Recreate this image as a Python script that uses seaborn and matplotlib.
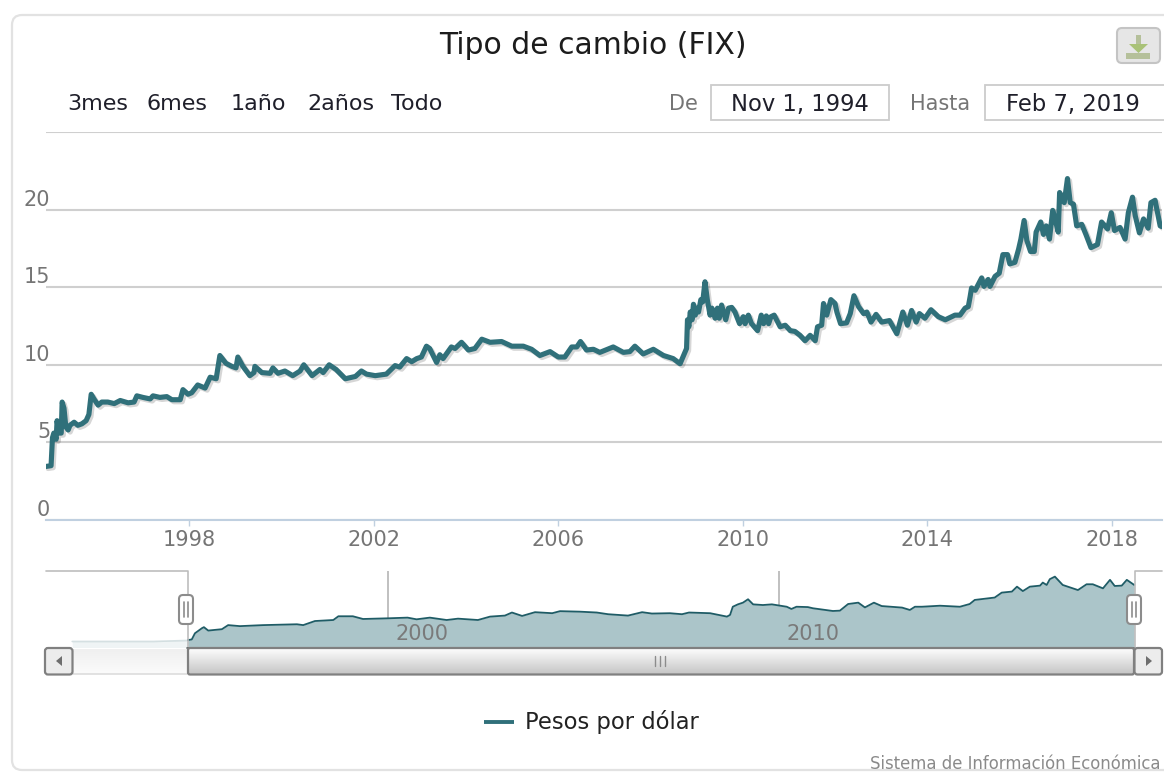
import numpy as np
import pandas as pd
import seaborn as sns
import matplotlib
matplotlib.use('Agg')
import matplotlib.pyplot as plt
import matplotlib.patheffects as pe
from matplotlib.patches import FancyBboxPatch, Rectangle, Polygon

## Tipo de cambio FIX
anios = [1994.89,1995.00,1995.03,1995.06,1995.11,1995.13,1995.17,1995.22,1995.24,1995.28,1995.32,1995.37,1995.41,1995.50,1995.58,1995.67,1995.76,1995.82,1995.87,1995.93,
         1996.02,1996.10,1996.23,1996.37,1996.50,1996.67,1996.80,1996.86,1996.99,1997.15,1997.21,1997.36,1997.51,1997.62,1997.80,1997.86,1997.97,1998.05,1998.18,1998.34,
         1998.45,1998.58,1998.66,1998.79,1998.92,1999.01,1999.05,1999.16,1999.31,1999.40,1999.42,1999.57,1999.75,1999.81,1999.92,2000.07,2000.24,2000.40,2000.48,2000.66,
         2000.83,2000.90,2001.03,2001.18,2001.38,2001.60,2001.73,2001.84,2002.03,2002.27,
         2002.46,2002.56,2002.71,2002.82,2002.93,2003.03,2003.14,2003.21,2003.36,2003.43,2003.50,2003.68,2003.76,2003.90,2004.05,2004.19,2004.34,2004.52,2004.77,2004.99,
         2005.24,2005.42,2005.60,2005.82,2006.00,2006.14,2006.29,2006.40,2006.48,2006.61,2006.76,2006.90,2007.19,2007.41,2007.55,2007.66,2007.84,2008.06,2008.28,2008.49,
         2008.64,2008.73,2008.78,2008.80,2008.83,2008.86,2008.90,2008.93,2008.97,2009.00,2009.04,2009.09,2009.13,2009.18,2009.23,2009.29,2009.33,2009.40,2009.45,2009.49,
         2009.54,2009.63,2009.69,2009.76,2009.83,2009.93,2010.01,2010.05,2010.12,2010.19,2010.32,2010.40,2010.45,2010.51,2010.56,2010.61,2010.68,2010.81,2010.92,2011.03,
         2011.13,2011.24,2011.35,2011.46,2011.57,2011.62,2011.71,2011.75,2011.82,2011.91,2012.00,2012.04,2012.12,2012.25,2012.33,2012.41,2012.51,2012.62,2012.69,2012.78,
         2012.89,2013.01,2013.18,2013.34,2013.47,2013.57,2013.66,2013.76,2013.83,2013.95,2014.08,2014.24,2014.39,2014.60,2014.71,2014.82,2014.89,2014.93,2014.96,2015.04,
         2015.18,2015.23,2015.32,2015.36,2015.47,2015.56,2015.64,2015.74,2015.79,2015.90,2015.98,2016.03,2016.10,2016.16,2016.24,2016.32,2016.36,2016.46,2016.52,2016.58,
         2016.65,2016.72,2016.77,2016.84,2016.87,2016.97,2017.04,2017.10,2017.17,2017.24,2017.35,2017.44,2017.55,2017.69,2017.78,2017.91,2017.99,2018.06,2018.18,2018.29,
         2018.36,2018.45,2018.51,2018.60,2018.69,2018.79,2018.85,2018.94,2019.05,2019.09]
pesos = [3.45,3.5,5.3,5.6,5.2,6.4,5.6,5.6,7.6,7.2,6.0,5.8,6.1,6.3,6.1,6.2,6.4,6.8,8.1,7.8,
         7.4,7.6,7.6,7.5,7.7,7.55,7.6,8.0,7.9,7.8,8.0,7.9,7.95,7.75,7.75,8.4,8.1,8.2,8.7,8.5,
         9.2,9.1,10.6,10.1,9.9,9.8,10.5,9.9,9.3,9.5,9.9,9.5,9.45,9.8,9.45,9.6,9.3,9.6,10.0,9.3,
         9.7,9.5,10.0,9.7,9.1,9.25,9.6,9.4,9.3,9.4,
         9.95,9.85,10.4,10.2,10.4,10.5,11.2,11.05,10.15,10.65,10.4,11.15,11.05,11.45,10.95,11.05,11.65,11.45,11.5,11.2,
         11.2,11.0,10.6,10.85,10.5,10.5,11.15,11.15,11.5,10.95,11.0,10.8,11.15,10.8,10.85,11.2,10.7,11.0,10.6,10.4,
         10.07,10.7,11.05,12.9,12.45,13.4,12.9,13.9,13.2,13.65,13.4,14.2,14.05,15.35,14.2,13.2,13.65,13.0,13.65,13.0,
         13.85,12.9,13.65,13.7,13.4,12.65,13.1,12.65,13.2,12.65,12.2,13.2,12.65,13.15,12.65,13.1,13.2,12.45,12.55,12.2,
         12.15,11.9,11.55,11.9,11.55,12.45,12.55,13.95,13.2,14.2,13.95,13.4,12.65,12.7,13.3,14.45,13.75,13.3,13.4,12.75,
         13.25,12.75,12.85,12.0,13.4,12.55,13.5,12.75,13.3,13.0,13.55,13.1,12.9,13.2,13.2,13.65,13.75,14.4,14.95,14.8,
         15.6,15.05,15.5,15.05,15.7,15.9,17.1,17.1,16.5,16.6,17.45,18.1,19.3,18.0,17.3,17.3,18.55,19.2,18.4,18.95,
         18.1,19.95,19.4,18.55,21.1,20.45,22.0,20.45,20.35,18.95,19.05,18.4,17.55,17.75,19.2,18.75,19.8,18.65,18.85,18.1,
         19.8,20.8,19.6,18.5,19.4,18.8,20.45,20.6,18.95,18.9]

## navigator series, it is drawn smoother than the main line
anios_nav = [1994.88,1994.98,1995.06,1995.24,1995.29,1995.40,1995.75,1995.91,1996.21,1996.80,1997.67,1997.83,1998.13,1998.60,1998.73,1999.10,1999.36,2000.00,2000.50,2000.73,
             2001.07,2001.50,2001.79,2002.30,2002.61,2002.99,2003.17,2003.43,2003.76,2004.20,2004.40,2004.91,2005.34,2005.63,2006.14,2006.50,2006.75,2007.21,2007.52,2007.70,
             2008.24,2008.67,2008.75,2008.82,2008.95,2009.08,2009.21,2009.34,2009.59,2009.82,2010.20,2010.32,2010.45,2010.74,2010.87,2011.38,2011.56,2011.77,2012.03,2012.20,
             2012.43,2012.63,2013.15,2013.35,2013.48,2013.66,2014.12,2014.63,2014.88,2015.01,2015.52,2015.70,2015.96,2016.09,2016.24,2016.42,2016.68,2016.75,2016.85,2016.93,
             2017.06,2017.26,2017.65,2017.87,2018.03,2018.29,2018.47,2018.59,2018.77,2018.90,2019.09]
pesos_nav = [3.5,3.7,5.5,7.0,7.3,6.3,6.7,7.9,7.6,7.9,8.15,7.9,9.1,9.4,10.5,10.5,9.7,9.9,10.1,9.6,
             10.1,9.4,9.8,9.4,10.4,10.7,11.6,10.6,11.7,11.4,12.0,11.85,11.6,11.1,10.7,11.7,11.3,11.4,11.1,11.6,
             11.4,10.4,10.9,13.3,14.0,14.5,15.5,14.0,13.8,14.0,13.3,12.65,13.3,13.2,12.85,12.05,12.15,14.1,14.5,13.1,
             14.5,13.5,13.05,12.35,13.3,13.3,13.6,13.3,14.1,15.3,16.0,17.45,17.75,19.2,17.9,19.2,19.5,20.4,19.7,21.4,
             22.15,19.7,18.2,19.9,19.9,18.7,21.2,19.4,19.5,21.2,19.7]

## older stretch, faded part of the navigator
anios_previos = [1991.92,1993.0,1994.0,1994.89]
pesos_previos = [3.1,3.1,3.1,3.4]

ticks_y = [0,5,10,15,20,25]
etiquetas_y = ['0','5','10','15','20','']
ticks_x = [1998,2002,2006,2010,2014,2018]
ticks_nav = [2000,2010]
botones = ['3mes','6mes','1año','2años','Todo']
botones_x = [67,147,231,307,391]

df = pd.DataFrame({'anio':anios,'pesos':pesos})
df_nav = pd.DataFrame({'anio':anios_nav,'pesos':pesos_nav})

sns.set_theme(style='white')
plt.rcParams['font.family'] = ['DejaVu Sans']

W,H = 1164,772
verde = '#30707a'
gris = '#757575'
fig = plt.figure(figsize=(W/100,H/100),dpi=100,facecolor='white')

def caja(x0,y0,x1,y1):
    return [x0/W,1-y1/H,(x1-x0)/W,(y1-y0)/H]

## card, title and controls
bg = fig.add_axes([0,0,1,1],zorder=0)
bg.set_xlim(0,W); bg.set_ylim(H,0); bg.axis('off')
bg.add_patch(FancyBboxPatch((12,15),1170,755,boxstyle='round,pad=0,rounding_size=10',fc='white',ec='#e2e2e2',lw=1.6))
bg.text(593,45,'Tipo de cambio (FIX)',ha='center',va='center',fontsize=21.5,color='#1c1c1c')
for b,xb in zip(botones,botones_x):
    bg.text(xb,104.5,b,ha='left',va='center',fontsize=16,color='#1f1f2a')
bg.text(669,104.5,'De',ha='left',va='center',fontsize=15,color=gris)
bg.text(910,104.5,'Hasta',ha='left',va='center',fontsize=15,color=gris)
bg.add_patch(Rectangle((711,85),178,35,fc='white',ec='#cccccc',lw=1.3))
bg.add_patch(Rectangle((985,85),180,35,fc='white',ec='#cccccc',lw=1.3))
bg.text(800,104.5,'Nov 1, 1994',ha='center',va='center',fontsize=16.3,color='#1f1f2a')
bg.text(1073,104.5,'Feb 7, 2019',ha='center',va='center',fontsize=16.3,color='#1f1f2a')

## download button
bg.add_patch(FancyBboxPatch((1117,28),43,35,boxstyle='round,pad=0,rounding_size=5',fc='#e6e6e6',ec='#c4c4c4',lw=1.5))
bg.add_patch(Rectangle((1126,53),24,6,fc='#b5c09a',ec='none'))
bg.add_patch(Rectangle((1136,35),5,10,fc='#b5c09a',ec='none'))
bg.add_patch(Polygon([[1129,44],[1148,44],[1138.5,53]],fc='#a9c277',ec='none'))

## legend and credit
bg.plot([484,514],[722,722],color=verde,lw=2.8,solid_capstyle='butt')
bg.text(525,722.5,'Pesos por dólar',ha='left',va='center',fontsize=16.3,color='#222222')
bg.text(1160,764,'Sistema de Información Económica',ha='right',va='center',fontsize=11.9,color='#8a8a8a')

## main chart
ax = fig.add_axes(caja(46,132,1162,520),zorder=1)
ax.patch.set_visible(False)
ax.set_axisbelow(True)
sns.lineplot(data=df,x='anio',y='pesos',ax=ax,color=verde,lw=3.7,estimator=None,sort=False,
             solid_joinstyle='round',solid_capstyle='round',zorder=4,
             path_effects=[pe.SimpleLineShadow(offset=(1.5,-1.5),shadow_color='#000000',alpha=0.16),pe.Normal()])
ax.set_xlim(1994.89,2019.09)
ax.set_ylim(0,25)
ax.set_xticks(ticks_x)
ax.set_yticks(ticks_y)
ax.set_yticklabels(etiquetas_y,va='bottom')
ax.set_xlabel(''); ax.set_ylabel('')
ax.grid(axis='y',color='#cfcfcf',lw=1.5)
ax.grid(axis='x',visible=False)
for s in ['top','right','left']:
    ax.spines[s].set_visible(False)
ax.spines['bottom'].set_color('#c0d0e0')
ax.spines['bottom'].set_linewidth(1.5)
ax.spines['bottom'].set_zorder(5)
ax.tick_params(axis='x',length=4,width=1,color='#c0d0e0',labelcolor=gris,labelsize=15,pad=3,bottom=True)
ax.tick_params(axis='y',length=0,labelcolor=gris,labelsize=15,pad=-3)
for lab in ax.get_yticklabels():
    lab.set_verticalalignment('bottom')

## navigator
nav = fig.add_axes(caja(46,571,1162,647),zorder=1)
nav.patch.set_visible(False)
nav.fill_between(anios_nav,pesos_nav,0,color='#abc5c9',lw=0)
sns.lineplot(data=df_nav,x='anio',y='pesos',ax=nav,color='#1f5c66',lw=1.3,estimator=None,sort=False)
sns.lineplot(x=anios_previos,y=pesos_previos,ax=nav,color='#1f5c66',lw=1.2,alpha=0.18,estimator=None,sort=False)
nav.fill_between(anios_previos,pesos_previos,0,color='#abc5c9',alpha=0.18,lw=0)
nav.set_xlim(1991.25,2019.8)
nav.set_ylim(1.47,23.8)
nav.set_xticks(ticks_nav)
nav.set_yticks([])
nav.set_xticklabels([])
nav.set_xlabel(''); nav.set_ylabel('')
nav.tick_params(axis='x',length=0)
nav.grid(axis='x',color='#b5b5b5',lw=1.2)
nav.grid(axis='y',visible=False)
for s in nav.spines.values():
    s.set_visible(False)
for t in ticks_nav:
    nav.text(t+0.2,2.4,str(t),ha='left',va='bottom',fontsize=15,color='#7a7a7a')

## navigator frame, scrollbar and handles
fg = fig.add_axes([0,0,1,1],zorder=2)
fg.patch.set_visible(False)
fg.set_xlim(0,W); fg.set_ylim(H,0); fg.axis('off')
fg.plot([46,187.5,187.5],[571,571,647],color='#bdbdbd',lw=1.2)
fg.plot([1162,1134.5,1134.5],[571,571,647],color='#bdbdbd',lw=1.2)
fg.plot([187,1134],[647.5,647.5],color='#555f60',lw=1.2)

rampa = np.linspace(0,1,30).reshape(-1,1)
cm_thumb = matplotlib.colors.LinearSegmentedColormap.from_list('t',['#fbfbfb','#c6c6c6'])
cm_track = matplotlib.colors.LinearSegmentedColormap.from_list('r',['#f0f0f0','#fbfbfb'])
fg.imshow(rampa,extent=(72,187,674,649),aspect='auto',cmap=cm_track,zorder=1)
fg.imshow(rampa,extent=(188,1134,674,649),aspect='auto',cmap=cm_thumb,zorder=1)
fg.set_xlim(0,W); fg.set_ylim(H,0)
fg.plot([72,187],[674,674],color='#dddddd',lw=1.2,zorder=2)
fg.add_patch(FancyBboxPatch((188,648),946,26.5,boxstyle='round,pad=0,rounding_size=2',fc='none',ec='#808080',lw=1.6,zorder=3))
for xb in [45,1134.5]:
    fg.add_patch(FancyBboxPatch((xb,648),27.5,26.5,boxstyle='round,pad=0,rounding_size=3',fc='#ececec',ec='#808080',lw=1.6,zorder=3))
fg.add_patch(Polygon([[62,656],[62,666],[56,661]],fc='#6e6e6e',ec='none',zorder=4))
fg.add_patch(Polygon([[1146,656],[1146,666],[1152,661]],fc='#6e6e6e',ec='none',zorder=4))
for xg in [655,660,665]:
    fg.plot([xg,xg],[656,666],color='#8c8c8c',lw=1,zorder=4)
for xh in [186,1134]:
    fg.add_patch(FancyBboxPatch((xh-7,595),14,29,boxstyle='round,pad=0,rounding_size=4',fc='white',ec='#8c8c8c',lw=1.5,zorder=5))
    for xg in [xh-2,xh+2]:
        fg.plot([xg,xg],[602,617],color='#8c8c8c',lw=1.2,zorder=6)

fig.savefig('out.png',dpi=100,facecolor='white')
